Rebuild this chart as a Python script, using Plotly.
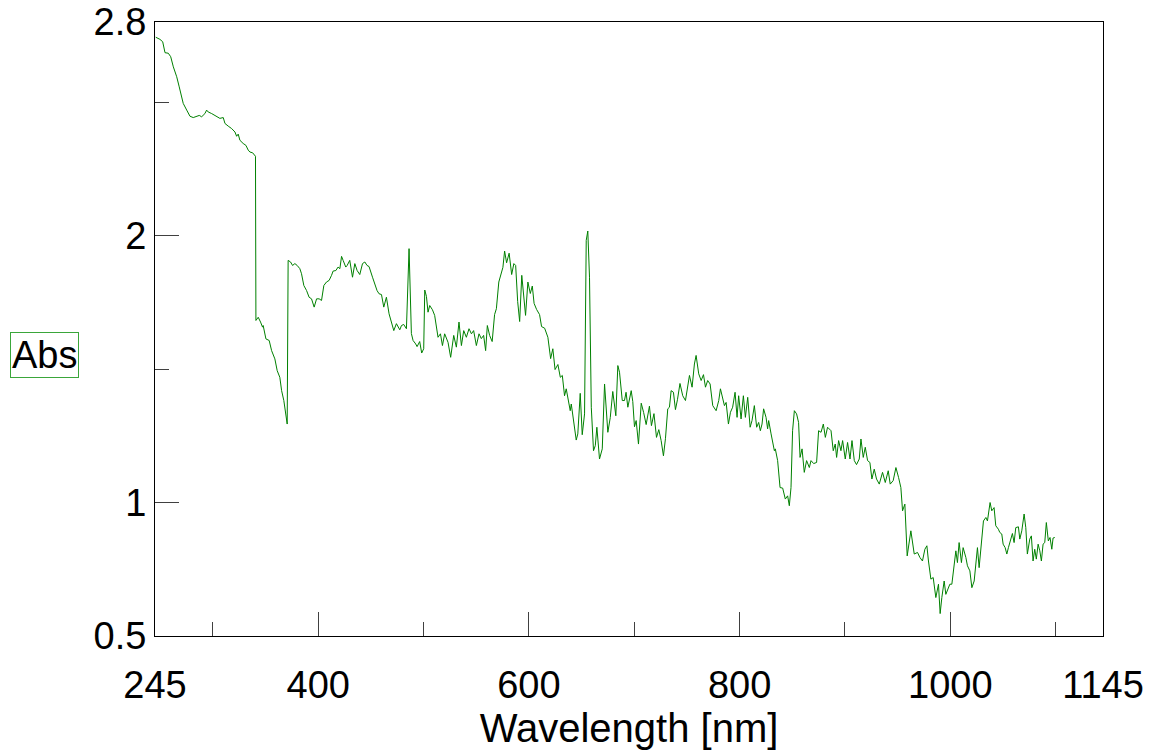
import plotly.graph_objects as go

# Absorbance spectrum (wavelength in nm, absorbance in Abs units)
wavelength_nm = [
    245.7, 249.7, 252.3, 254.5, 257.6, 259.9, 262.4, 265.6, 268.0, 270.3,
    271.8, 275.1, 278.2, 281.3, 284.5, 287.0, 289.3, 292.4, 294.0, 295.5,
    298.8, 301.9, 305.0, 306.6, 309.8, 311.4, 314.5, 317.7, 320.9, 322.5,
    324.0, 325.6, 328.7, 331.3, 333.5, 335.1, 337.7, 339.8, 340.4, 340.8,
    343.0, 345.2, 347.1, 347.7, 350.3, 353.4, 355.7, 358.8, 361.0, 363.5,
    365.2, 367.3, 369.2, 370.5, 371.4, 373.7, 375.6, 377.8, 380.0, 382.5,
    384.1, 386.3, 388.9, 391.3, 393.6, 396.1, 398.4, 400.8, 403.1, 405.3,
    407.8, 410.3, 412.6, 414.1, 416.7, 418.8, 420.5, 422.1, 423.6, 426.1,
    427.4, 429.9, 432.5, 434.7, 436.9, 439.4, 442.0, 444.2, 446.3, 448.2,
    451.5, 453.6, 455.8, 457.7, 460.0, 462.2, 464.7, 467.2, 469.5, 471.7,
    474.2, 475.7, 477.4, 479.0, 481.1, 483.7, 486.2, 488.4, 490.0, 492.5,
    493.8, 496.3, 498.2, 500.1, 501.1, 502.7, 504.2, 505.8, 508.4, 510.5,
    513.7, 516.0, 517.9, 520.0, 523.2, 525.7, 528.6, 531.1, 533.6, 535.9,
    538.1, 540.6, 543.1, 545.4, 547.5, 550.1, 552.6, 554.8, 557.0, 558.9,
    560.5, 562.7, 565.1, 567.4, 569.1, 571.4, 573.8, 575.3, 576.9, 578.8,
    581.2, 583.6, 585.7, 587.4, 589.3, 591.2, 593.2, 594.9, 596.8, 599.0,
    601.3, 603.2, 604.9, 607.3, 610.1, 612.0, 614.9, 618.0, 620.6, 622.7,
    624.8, 627.5, 629.8, 631.7, 633.8, 635.4, 637.0, 639.2, 640.2, 642.4,
    644.9, 646.4, 648.7, 650.6, 652.8, 654.4, 655.9, 657.5, 659.2, 661.3,
    663.0, 664.5, 667.0, 669.6, 671.8, 674.9, 677.2, 679.6, 682.5, 684.4,
    686.0, 688.6, 690.7, 692.2, 693.9, 697.1, 698.6, 700.2, 701.8, 704.0,
    706.6, 708.9, 711.3, 714.4, 716.3, 718.7, 721.1, 723.3, 725.5, 727.7,
    729.6, 731.8, 733.4, 735.0, 737.2, 739.1, 741.0, 743.4, 746.0, 748.6,
    750.2, 752.4, 754.9, 757.1, 758.7, 761.2, 763.5, 765.7, 767.6, 769.7,
    772.0, 774.5, 777.7, 780.2, 781.8, 784.0, 785.6, 787.2, 789.4, 791.3,
    793.4, 795.7, 797.6, 799.1, 801.4, 803.6, 805.5, 807.7, 810.0, 811.8,
    814.0, 816.2, 818.1, 819.7, 821.3, 822.8, 825.1, 826.6, 827.6, 829.9,
    831.4, 833.0, 833.9, 836.1, 838.4, 840.9, 843.4, 845.6, 847.2, 848.8,
    850.3, 852.0, 854.1, 856.0, 857.4, 859.3, 861.4, 863.6, 866.2, 867.8,
    870.3, 873.1, 875.0, 877.3, 879.5, 881.4, 883.5, 886.8, 888.9, 890.8,
    892.1, 894.0, 896.2, 897.8, 900.3, 902.5, 904.8, 906.7, 908.9, 911.0,
    913.6, 915.2, 917.4, 919.3, 921.5, 923.7, 925.6, 927.8, 930.0, 932.6,
    935.7, 938.3, 941.1, 943.0, 945.8, 948.4, 950.9, 953.1, 954.7, 956.9,
    959.1, 962.6, 965.8, 968.9, 971.2, 973.6, 975.9, 977.8, 979.3, 981.6,
    983.8, 986.3, 988.8, 990.4, 992.0, 994.2, 995.8, 998.0, 999.6, 1001.5,
    1003.7, 1005.3, 1006.8, 1008.4, 1010.6, 1012.2, 1014.8, 1016.3, 1018.6, 1020.5,
    1022.7, 1024.3, 1025.8, 1027.4, 1029.6, 1031.5, 1033.8, 1035.3, 1037.8, 1039.4,
    1041.6, 1043.2, 1045.7, 1047.0, 1048.9, 1050.2, 1052.1, 1053.7, 1055.2, 1057.5,
    1059.0, 1060.6, 1062.2, 1064.7, 1066.0, 1067.9, 1070.1, 1071.7, 1073.2, 1075.5,
    1077.0, 1078.6, 1080.2, 1081.7, 1083.4, 1085.0, 1086.5, 1088.1, 1089.7, 1091.2,
    1093.1, 1094.7, 1096.4, 1097.6, 1099.2,
]

absorbance = [
    2.743, 2.735, 2.726, 2.685, 2.683, 2.670, 2.632, 2.595, 2.557, 2.520,
    2.495, 2.470, 2.447, 2.442, 2.445, 2.450, 2.445, 2.457, 2.470, 2.463,
    2.457, 2.451, 2.445, 2.439, 2.442, 2.420, 2.410, 2.401, 2.388, 2.372,
    2.380, 2.357, 2.345, 2.338, 2.320, 2.313, 2.310, 2.298, 2.297, 1.682,
    1.694, 1.676, 1.657, 1.663, 1.613, 1.607, 1.569, 1.538, 1.494, 1.469,
    1.419, 1.382, 1.332, 1.294, 1.907, 1.901, 1.888, 1.895, 1.888, 1.876,
    1.857, 1.813, 1.794, 1.769, 1.763, 1.732, 1.763, 1.763, 1.757, 1.813,
    1.826, 1.832, 1.851, 1.867, 1.869, 1.882, 1.876, 1.922, 1.907, 1.882,
    1.888, 1.907, 1.844, 1.895, 1.869, 1.854, 1.895, 1.901, 1.888, 1.884,
    1.844, 1.820, 1.794, 1.782, 1.779, 1.732, 1.769, 1.707, 1.670, 1.644,
    1.670, 1.657, 1.647, 1.663, 1.667, 1.651, 1.951, 1.633, 1.607, 1.594,
    1.584, 1.603, 1.560, 1.576, 1.796, 1.772, 1.713, 1.738, 1.722, 1.701,
    1.619, 1.632, 1.588, 1.632, 1.600, 1.544, 1.626, 1.582, 1.676, 1.588,
    1.644, 1.619, 1.651, 1.632, 1.644, 1.588, 1.632, 1.614, 1.626, 1.569,
    1.663, 1.626, 1.603, 1.704, 1.726, 1.826, 1.866, 1.881, 1.942, 1.898,
    1.934, 1.854, 1.895, 1.888, 1.753, 1.678, 1.851, 1.783, 1.701, 1.826,
    1.783, 1.811, 1.746, 1.723, 1.704, 1.659, 1.653, 1.619, 1.539, 1.576,
    1.498, 1.517, 1.469, 1.476, 1.400, 1.426, 1.388, 1.344, 1.369, 1.307,
    1.234, 1.257, 1.409, 1.254, 1.332, 1.982, 2.017, 1.844, 1.357, 1.194,
    1.213, 1.282, 1.163, 1.201, 1.444, 1.263, 1.318, 1.416, 1.325, 1.513,
    1.488, 1.382, 1.382, 1.413, 1.357, 1.419, 1.378, 1.284, 1.307, 1.219,
    1.372, 1.337, 1.292, 1.361, 1.288, 1.333, 1.244, 1.273, 1.232, 1.175,
    1.239, 1.351, 1.357, 1.419, 1.413, 1.348, 1.385, 1.446, 1.400, 1.382,
    1.426, 1.476, 1.432, 1.519, 1.551, 1.482, 1.457, 1.479, 1.432, 1.457,
    1.444, 1.363, 1.344, 1.382, 1.426, 1.382, 1.363, 1.375, 1.294, 1.338,
    1.357, 1.413, 1.319, 1.400, 1.313, 1.400, 1.319, 1.394, 1.282, 1.307,
    1.363, 1.282, 1.300, 1.269, 1.294, 1.351, 1.319, 1.276, 1.307, 1.257,
    1.219, 1.194, 1.201, 1.157, 1.056, 1.054, 1.013, 1.025, 0.988, 1.056,
    1.269, 1.344, 1.332, 1.300, 1.169, 1.201, 1.113, 1.157, 1.131, 1.157,
    1.146, 1.150, 1.269, 1.263, 1.294, 1.244, 1.282, 1.269, 1.194, 1.219,
    1.169, 1.232, 1.194, 1.232, 1.163, 1.225, 1.163, 1.232, 1.157, 1.142,
    1.163, 1.238, 1.169, 1.207, 1.157, 1.150, 1.088, 1.125, 1.088, 1.069,
    1.113, 1.075, 1.119, 1.069, 1.082, 1.131, 1.094, 1.056, 0.969, 0.994,
    0.800, 0.894, 0.807, 0.813, 0.794, 0.781, 0.825, 0.838, 0.781, 0.713,
    0.719, 0.644, 0.694, 0.584, 0.644, 0.706, 0.656, 0.681, 0.694, 0.694,
    0.763, 0.819, 0.775, 0.850, 0.775, 0.831, 0.794, 0.763, 0.744, 0.681,
    0.706, 0.781, 0.831, 0.756, 0.869, 0.931, 0.944, 0.931, 1.000, 0.969,
    0.981, 0.913, 0.900, 0.888, 0.882, 0.844, 0.831, 0.807, 0.831, 0.869,
    0.884, 0.850, 0.906, 0.909, 0.863, 0.894, 0.957, 0.906, 0.807, 0.863,
    0.875, 0.781, 0.825, 0.788, 0.844, 0.819, 0.781, 0.844, 0.850, 0.925,
    0.856, 0.869, 0.825, 0.867, 0.869,
]

x_tick_values = [245, 400, 600, 800, 1000, 1145]
x_minor_values = [300, 500, 700, 900, 1100]
y_tick_values = [0.5, 1, 2, 2.8]
y_tick_labels = ["0.5", "1", "2", "2.8"]
y_minor_values = [1.5, 2.5]

FONT = "Liberation Sans, Arial, sans-serif"

fig = go.Figure(
    go.Scatter(
        x=wavelength_nm,
        y=absorbance,
        mode="lines",
        line=dict(color="#008000", width=1),
        hoverinfo="x+y",
    )
)

axis_common = dict(
    automargin=False,
    showline=True,
    linecolor="black",
    linewidth=1,
    mirror=True,
    showgrid=False,
    zeroline=False,
    ticks="inside",
    ticklen=24,
    tickwidth=1,
    tickcolor="#404040",
    tickfont=dict(family=FONT, size=38, color="black"),
)

fig.update_xaxes(
    **axis_common,
    range=[245, 1145],
    tickmode="array",
    tickvals=x_tick_values,
    ticktext=[str(v) for v in x_tick_values],
    ticklabelstandoff=15,
    minor=dict(tickmode="array", tickvals=x_minor_values, ticks="inside",
               ticklen=14, tickwidth=1, tickcolor="#404040", showgrid=False),
    title=dict(text="Wavelength [nm]", font=dict(family=FONT, size=40, color="black"),
               standoff=5),
)

fig.update_yaxes(
    **axis_common,
    range=[0.5, 2.8],
    tickmode="array",
    tickvals=y_tick_values,
    ticktext=y_tick_labels,
    ticklabelstandoff=0,
    minor=dict(tickmode="array", tickvals=y_minor_values, ticks="inside",
               ticklen=14, tickwidth=1, tickcolor="#404040", showgrid=False),
)

# Y-axis caption drawn horizontally inside a thin green frame
fig.add_annotation(
    text="Abs",
    xref="paper", yref="paper",
    x=-0.117, y=0.458,
    xanchor="center", yanchor="middle",
    showarrow=False,
    font=dict(family=FONT, size=38, color="black"),
    bordercolor="#3aa63a",
    borderwidth=1,
    borderpad=1,
)

fig.update_layout(
    width=1154,
    height=756,
    margin=dict(l=155, r=51, t=22, b=120),
    paper_bgcolor="white",
    plot_bgcolor="white",
    showlegend=False,
)

fig.write_html("out.html")
